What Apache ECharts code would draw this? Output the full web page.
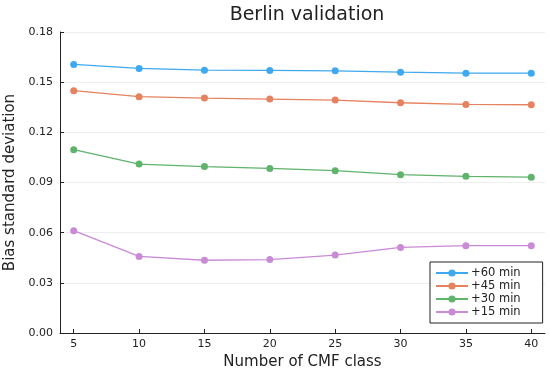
<!DOCTYPE html>
<html><head><meta charset="utf-8">
<script src="https://cdn.jsdelivr.net/npm/echarts@6/dist/echarts.min.js"></script>
<style>html,body{margin:0;padding:0;background:#fff}#c{width:550px;height:374px}</style>
</head><body><div id="c"></div>
<script>
var classes = [5, 10, 15, 20, 25, 30, 35, 40];
var s60 = [0.1606, 0.1582, 0.1572, 0.1570, 0.1568, 0.1560, 0.1554, 0.1554];
var s45 = [0.1449, 0.1413, 0.1405, 0.1399, 0.1393, 0.1377, 0.1367, 0.1365];
var s30 = [0.1096, 0.1010, 0.0995, 0.0984, 0.0971, 0.0947, 0.0937, 0.0932];
var s15 = [0.0612, 0.0458, 0.0435, 0.0439, 0.0466, 0.0512, 0.0522, 0.0522];
var seriesNames = ['+60 min', '+45 min', '+30 min', '+15 min'];
var seriesData = [s60, s45, s30, s15];
var colors = ['#3fa9ef', '#e5825f', '#5fb36b', '#c98ad6'];

var font = 'DejaVu Sans';
var chart = echarts.init(document.getElementById('c'), null, {renderer: 'canvas'});
chart.setOption({
  animation: false,
  backgroundColor: '#ffffff',
  title: {
    text: 'Berlin validation', left: 302, top: 1, textAlign: 'center',
    textStyle: {fontFamily: font, fontSize: 19, fontWeight: 'normal', color: '#222'}
  },
  legend: {
    orient: 'vertical', left: 430, top: 262,
    data: seriesNames,
    itemWidth: 32, itemHeight: 9, itemGap: 1,
    padding: [5, 22, 5, 5],
    borderColor: '#222', borderWidth: 1, backgroundColor: '#fff',
    textStyle: {fontFamily: font, fontSize: 11.5, lineHeight: 12, color: '#222', padding: [0, 0, 0, -2]}
  },
  grid: {left: 60, right: 5, top: 32, bottom: 41, containLabel: false, outerBoundsMode: 'none'},
  xAxis: {
    type: 'value', min: 3.95, max: 41.05,
    name: 'Number of CMF class', nameLocation: 'middle', nameGap: 21,
    nameTextStyle: {fontFamily: font, fontSize: 15, color: '#222'},
    axisLine: {show: true, lineStyle: {color: '#222', width: 1}},
    axisTick: {show: true, inside: true, length: 4, lineStyle: {color: '#222'}, customValues: classes},
    axisLabel: {fontFamily: font, fontSize: 11, color: '#222', margin: 6, customValues: classes},
    splitLine: {show: false}
  },
  yAxis: {
    type: 'value', min: 0, max: 0.18, interval: 0.03,
    name: 'Bias standard deviation', nameLocation: 'middle', nameGap: 38,
    nameTextStyle: {fontFamily: font, fontSize: 15, color: '#222'},
    axisLine: {show: true, lineStyle: {color: '#222', width: 1}},
    axisTick: {show: true, inside: true, length: 4, lineStyle: {color: '#222'}},
    axisLabel: {fontFamily: font, fontSize: 11, color: '#222', margin: 7,
      formatter: function (v) { return v.toFixed(2); }},
    splitLine: {show: true, lineStyle: {color: '#eeeeee', width: 1}}
  },
  series: seriesNames.map(function (n, i) {
    return {
      name: n, type: 'line',
      data: classes.map(function (c, j) { return [c, seriesData[i][j]]; }),
      symbol: 'circle', symbolSize: 7,
      itemStyle: {color: colors[i]},
      lineStyle: {color: colors[i], width: 1.3}
    };
  })
});
</script></body></html>
